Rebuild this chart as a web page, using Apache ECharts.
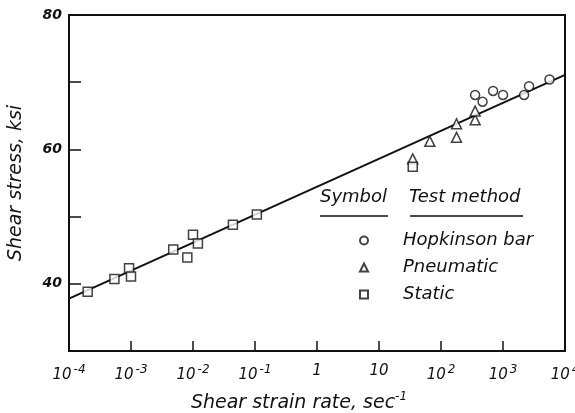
<!DOCTYPE html>
<html><head><meta charset="utf-8">
<script src="https://cdn.jsdelivr.net/npm/echarts@6/dist/echarts.min.js"></script>
<style>html,body{margin:0;padding:0;background:#fff}#c{width:575px;height:413px}</style>
</head><body><div id="c"></div>
<script>
// Data (shear strain rate in 1/sec, shear stress in ksi)
const hopkinsonRate = [355, 468, 692, 1000, 2190, 2630, 5620];
const hopkinsonStress = [68.1, 67.1, 68.7, 68.1, 68.1, 69.4, 70.4];
const pneumaticRate = [35, 66, 178, 178, 355, 355];
const pneumaticStress = [58.6, 61.2, 61.8, 63.8, 64.4, 65.7];
const staticRate = [2.0e-4, 5.4e-4, 9.3e-4, 1.0e-3, 4.8e-3, 8.1e-3, 1.0e-2, 1.2e-2, 4.4e-2, 0.107, 35];
const staticStress = [38.8, 40.7, 42.3, 41.1, 45.1, 43.9, 47.3, 46.0, 48.8, 50.3, 57.4];
const fitRate = [1e-4, 1e4];
const fitStress = [37.8, 71.1];
const yTickLabels = [40, 60, 80];
const legendNames = ['Hopkinson bar', 'Pneumatic', 'Static'];

const zip = (a, b) => a.map((v, i) => [v, b[i]]);
const FONT = 'DejaVu Sans';
const ink = '#111';

const chart = echarts.init(document.getElementById('c'), null, {renderer: 'canvas'});
const markerStyle = {color: '#fff', borderColor: ink, borderWidth: 1.5};

chart.setOption({
  animation: false,
  backgroundColor: '#fff',
  grid: {left: 69, right: 10, top: 15, bottom: 62, containLabel: false, outerBoundsMode: 'none',
    show: true, borderColor: ink, borderWidth: 2, backgroundColor: 'transparent'},
  xAxis: {
    type: 'log', logBase: 10, min: 1e-4, max: 1e4, interval: 1,
    name: 'Shear strain rate, sec{sup|-1}',
    nameLocation: 'middle', nameGap: 40,
    nameTextStyle: {fontFamily: FONT, fontStyle: 'italic', fontSize: 19, color: ink, padding: [0, 36, 0, 0],
      rich: {sup: {fontFamily: FONT, fontStyle: 'italic', fontSize: 12, color: ink, padding: [0, 0, 12, 0]}}},
    axisLine: {lineStyle: {color: ink, width: 2}},
    axisTick: {inside: true, length: 10, lineStyle: {color: ink, width: 1.5}},
    splitLine: {show: false},
    minorTick: {show: false},
    axisLabel: {
      margin: 13, hideOverlap: false, showMinLabel: true, showMaxLabel: true,
      fontFamily: FONT, fontStyle: 'italic', fontSize: 15, color: ink,
      formatter: v => {
        const e = Math.round(Math.log10(v));
        if (e === 0) return '1';
        if (e === 1) return '10';
        return '10{sup|' + e + '}';
      },
      rich: {sup: {fontFamily: FONT, fontStyle: 'italic', fontSize: 12, color: ink, padding: [0, 0, 10, 2]}}
    }
  },
  yAxis: {
    type: 'value', min: 30, max: 80, interval: 10,
    name: 'Shear stress, ksi', nameLocation: 'middle', nameGap: 43, nameRotate: 90,
    nameTextStyle: {fontFamily: FONT, fontStyle: 'italic', fontSize: 19, color: ink},
    axisLine: {show: true, lineStyle: {color: ink, width: 2}},
    axisTick: {show: true, inside: true, length: 12, lineStyle: {color: ink, width: 1.5}},
    splitLine: {show: false},
    axisLabel: {
      margin: 7, fontFamily: FONT, fontStyle: 'italic', fontWeight: 'bold', fontSize: 14, color: ink,
      formatter: v => (yTickLabels.indexOf(v) >= 0 ? String(v) : '')
    }
  },
  legend: {
    data: legendNames, orient: 'vertical', left: 354, top: 225,
    itemWidth: 8, itemHeight: 8, itemGap: 6,
    textStyle: {fontFamily: FONT, fontStyle: 'italic', fontSize: 18, color: ink, lineHeight: 21, padding: [0, 0, 0, 30]},
    inactiveColor: ink
  },
  graphic: [
    {type: 'text', left: 320, top: 188, style: {text: 'Symbol', font: 'italic 18px "DejaVu Sans"', fill: ink}},
    {type: 'text', left: 409, top: 188, style: {text: 'Test method', font: 'italic 18px "DejaVu Sans"', fill: ink}},
    {type: 'line', shape: {x1: 320, y1: 216, x2: 388, y2: 216}, style: {stroke: ink, lineWidth: 1.5}},
    {type: 'line', shape: {x1: 410, y1: 216, x2: 523, y2: 216}, style: {stroke: ink, lineWidth: 1.5}}
  ],
  series: [
    {type: 'line', name: 'fit', data: zip(fitRate, fitStress), showSymbol: false, lineStyle: {color: ink, width: 2}, z: 1},
    {type: 'scatter', name: legendNames[0], data: zip(hopkinsonRate, hopkinsonStress), symbol: 'circle', symbolSize: 9, itemStyle: markerStyle, z: 3},
    {type: 'scatter', name: legendNames[1], data: zip(pneumaticRate, pneumaticStress), symbol: 'triangle', symbolSize: 10, itemStyle: markerStyle, z: 3},
    {type: 'scatter', name: legendNames[2], data: zip(staticRate, staticStress), symbol: 'rect', symbolSize: 9, itemStyle: markerStyle, z: 3}
  ]
});
</script></body></html>
